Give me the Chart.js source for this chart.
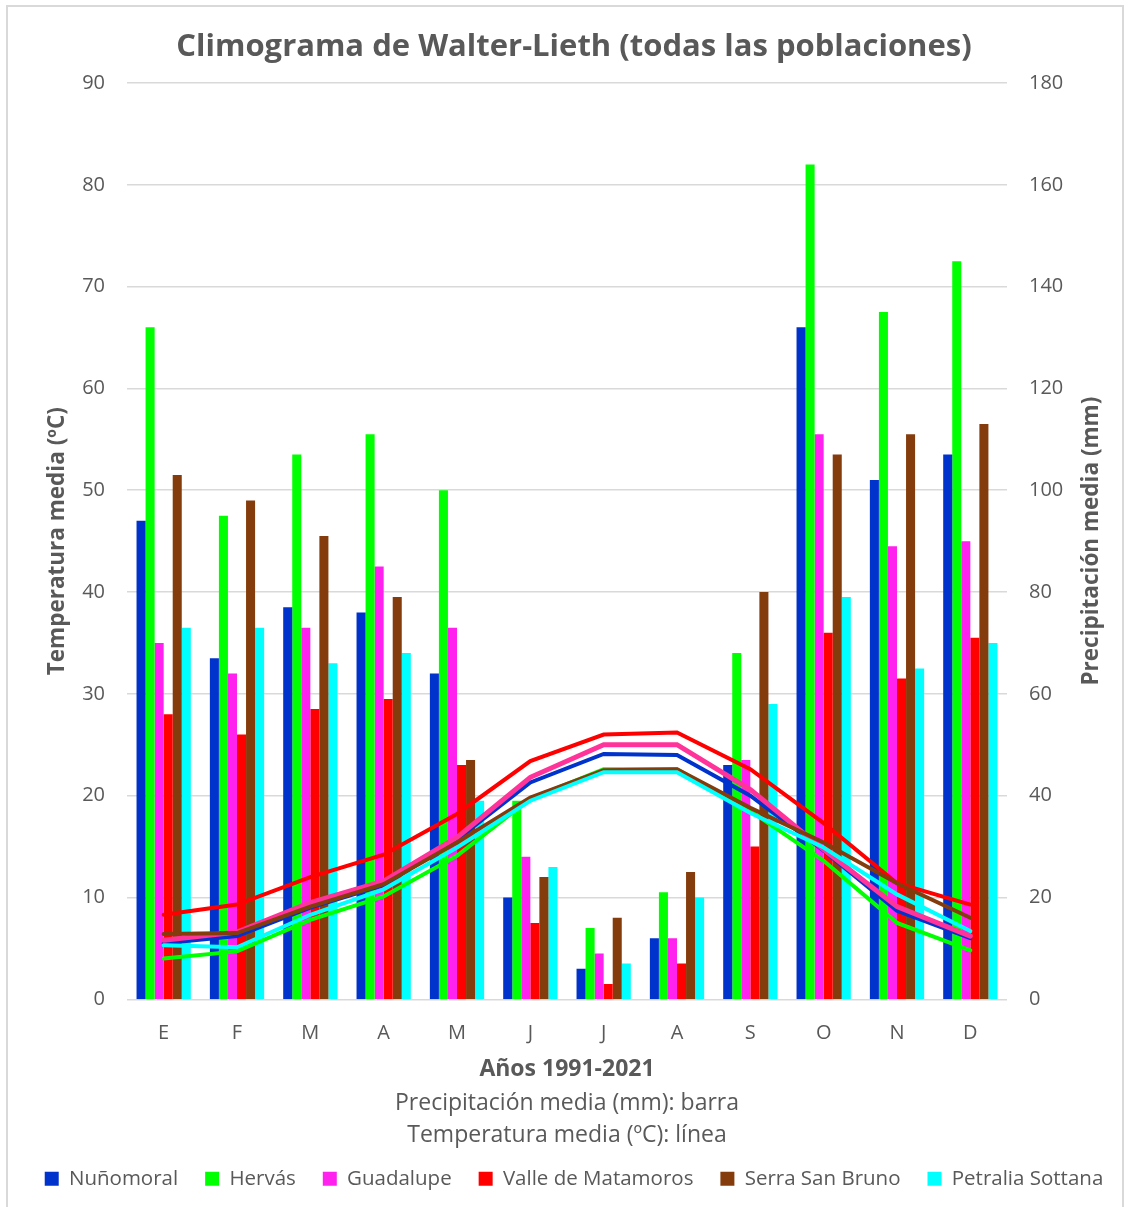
<!DOCTYPE html>
<html>
<head>
<meta charset="utf-8">
<script src="https://cdn.jsdelivr.net/npm/chart.js@4/dist/chart.umd.min.js"></script>
<style>
  html, body { margin: 0; padding: 0; background: #fff; overflow: hidden; }
  #wrap { position: relative; width: 1132px; height: 1207px; overflow: hidden; }
  #frame { position: absolute; left: 6px; top: 5px; width: 1118px; height: 1300px; border: 2px solid #d9d9d9; box-sizing: border-box; }
  #c { position: absolute; left: 0; top: 0; }
</style>
</head>
<body>
<div id="wrap">
  <div id="frame"></div>
  <canvas id="c" width="1132" height="1207" style="width:1132px;height:1207px;"></canvas>
</div>
<script>
// ---- Data ----
const months = ['E', 'F', 'M', 'A', 'M', 'J', 'J', 'A', 'S', 'O', 'N', 'D'];
const stations = ['Nuñomoral', 'Hervás', 'Guadalupe', 'Valle de Matamoros', 'Serra San Bruno', 'Petralia Sottana'];

// Precipitación media (mm) — barras
const precipNunomoral = [94, 67, 77, 76, 64, 20, 6, 12, 46, 132, 102, 107];
const precipHervas    = [132, 95, 107, 111, 100, 39, 14, 21, 68, 164, 135, 145];
const precipGuadalupe = [70, 64, 73, 85, 73, 28, 9, 12, 47, 111, 89, 90];
const precipValle     = [56, 52, 57, 59, 46, 15, 3, 7, 30, 72, 63, 71];
const precipSerra     = [103, 98, 91, 79, 47, 24, 16, 25, 80, 107, 111, 113];
const precipPetralia  = [73, 73, 66, 68, 39, 26, 7, 20, 58, 79, 65, 70];

// Temperatura media (ºC) — líneas
const tempNunomoral = [5.5, 6.2, 9.0, 11.2, 15.7, 21.3, 24.1, 24.0, 20.0, 14.6, 8.7, 6.0];
const tempHervas    = [4.0, 4.7, 7.8, 10.1, 14.1, 19.7, 22.6, 22.6, 18.5, 13.6, 7.5, 4.8];
const tempGuadalupe = [5.8, 6.6, 9.5, 11.6, 15.9, 21.8, 25.0, 25.0, 20.6, 14.7, 9.1, 6.2];
const tempValle     = [8.3, 9.3, 12.0, 14.2, 18.2, 23.4, 26.0, 26.2, 22.6, 17.3, 11.4, 9.3];
const tempSerra     = [6.4, 6.5, 9.1, 11.3, 15.4, 19.8, 22.5, 22.6, 18.8, 15.4, 11.4, 8.0];
const tempPetralia  = [5.3, 5.1, 8.3, 10.8, 14.9, 19.5, 22.3, 22.3, 18.3, 14.9, 10.3, 6.7];

const tempTicksMax = 90;
const precipTicksMax = 180;

const barColors  = ['#0033cc', '#00ff00', '#ff22ee', '#ff0000', '#843c0c', '#00ffff'];
const lineColors = ['#0033cc', '#00ff00', '#ff3399', '#ff0000', '#843c0c', '#00ffff'];

const precipSeries = [precipNunomoral, precipHervas, precipGuadalupe, precipValle, precipSerra, precipPetralia];
const tempSeries = [tempNunomoral, tempHervas, tempGuadalupe, tempValle, tempSerra, tempPetralia];

const FONT = '"Open Sans", Lato, sans-serif';
const GREY = '#595959';
Chart.defaults.font.family = FONT;
Chart.defaults.color = GREY;

const datasets = [];
stations.forEach((name, i) => {
  datasets.push({
    type: 'bar', label: name, data: precipSeries[i], yAxisID: 'y1',
    backgroundColor: barColors[i], borderWidth: 0, order: 10,
    barPercentage: 1.0, categoryPercentage: 0.74
  });
});
stations.forEach((name, i) => {
  datasets.push({
    type: 'line', label: name + ' (T)', data: tempSeries[i], yAxisID: 'y',
    borderColor: lineColors[i], backgroundColor: lineColors[i],
    borderWidth: i === 2 ? 5 : 4, pointRadius: 0, tension: 0, fill: false,
    borderCapStyle: 'round', order: 6 - i
  });
});

const rightTitle = {
  id: 'rightTitle',
  afterDraw(chart) {
    const ctx = chart.ctx, ca = chart.chartArea;
    ctx.save();
    ctx.translate(1092, (ca.top + ca.bottom) / 2);
    ctx.rotate(-Math.PI / 2);
    ctx.font = 'bold 22.5px ' + FONT;
    ctx.fillStyle = GREY;
    ctx.textAlign = 'center';
    ctx.textBaseline = 'middle';
    ctx.fillText('Precipitación media (mm)', 0, 0);
    ctx.restore();
  }
};

new Chart(document.getElementById('c'), {
  data: { labels: months, datasets },
  options: {
    responsive: false, animation: false,
    layout: { padding: { left: 16, right: 0, top: 19, bottom: 8 } },
    plugins: {
      title: {
        display: true, text: 'Climograma de Walter-Lieth (todas las poblaciones)',
        font: { size: 31, weight: 'bold' }, color: GREY,
        padding: { top: 9.5, bottom: 17.3 }
      },
      subtitle: {
        display: true, position: 'bottom', weight: 500, fullSize: false,
        text: ['Precipitación media (mm): barra', 'Temperatura media (ºC): línea'],
        font: { size: 23, lineHeight: 32 / 23 }, color: GREY,
        padding: { top: 4.2, bottom: -9.75 }
      },
      legend: {
        position: 'bottom', weight: 1000,
        labels: {
          boxWidth: 14, boxHeight: 14, padding: 27, color: GREY,
          font: { size: 20.5 },
          filter: (item) => item.datasetIndex < 6
        }
      },
      tooltip: { enabled: false }
    },
    scales: {
      x: {
        grid: { display: false, drawTicks: false }, border: { display: false },
        ticks: { color: GREY, font: { size: 20 }, padding: 22 },
        title: { display: true, text: 'Años 1991-2021', color: GREY, font: { size: 23, weight: 'bold' }, padding: { top: -11.8, bottom: 0 } }
      },
      y: {
        position: 'left', min: 0, max: tempTicksMax,
        ticks: { stepSize: 10, color: GREY, font: { size: 20 }, padding: 22 },
        grid: { color: '#d9d9d9', lineWidth: 1.5, drawTicks: false },
        border: { display: false },
        title: { display: true, text: 'Temperatura media (ºC)', color: GREY, font: { size: 22.5, weight: 'bold' }, padding: { top: 28.5, bottom: 0 } },
        afterFit(scale) { scale.width = 111; }
      },
      y1: {
        position: 'right', min: 0, max: precipTicksMax,
        ticks: { stepSize: 20, color: GREY, font: { size: 20 }, padding: 22 },
        grid: { display: false, drawTicks: false },
        border: { display: false },
        afterFit(scale) { scale.width = 125; }
      }
    }
  },
  plugins: [rightTitle]
});
</script>
</body>
</html>
